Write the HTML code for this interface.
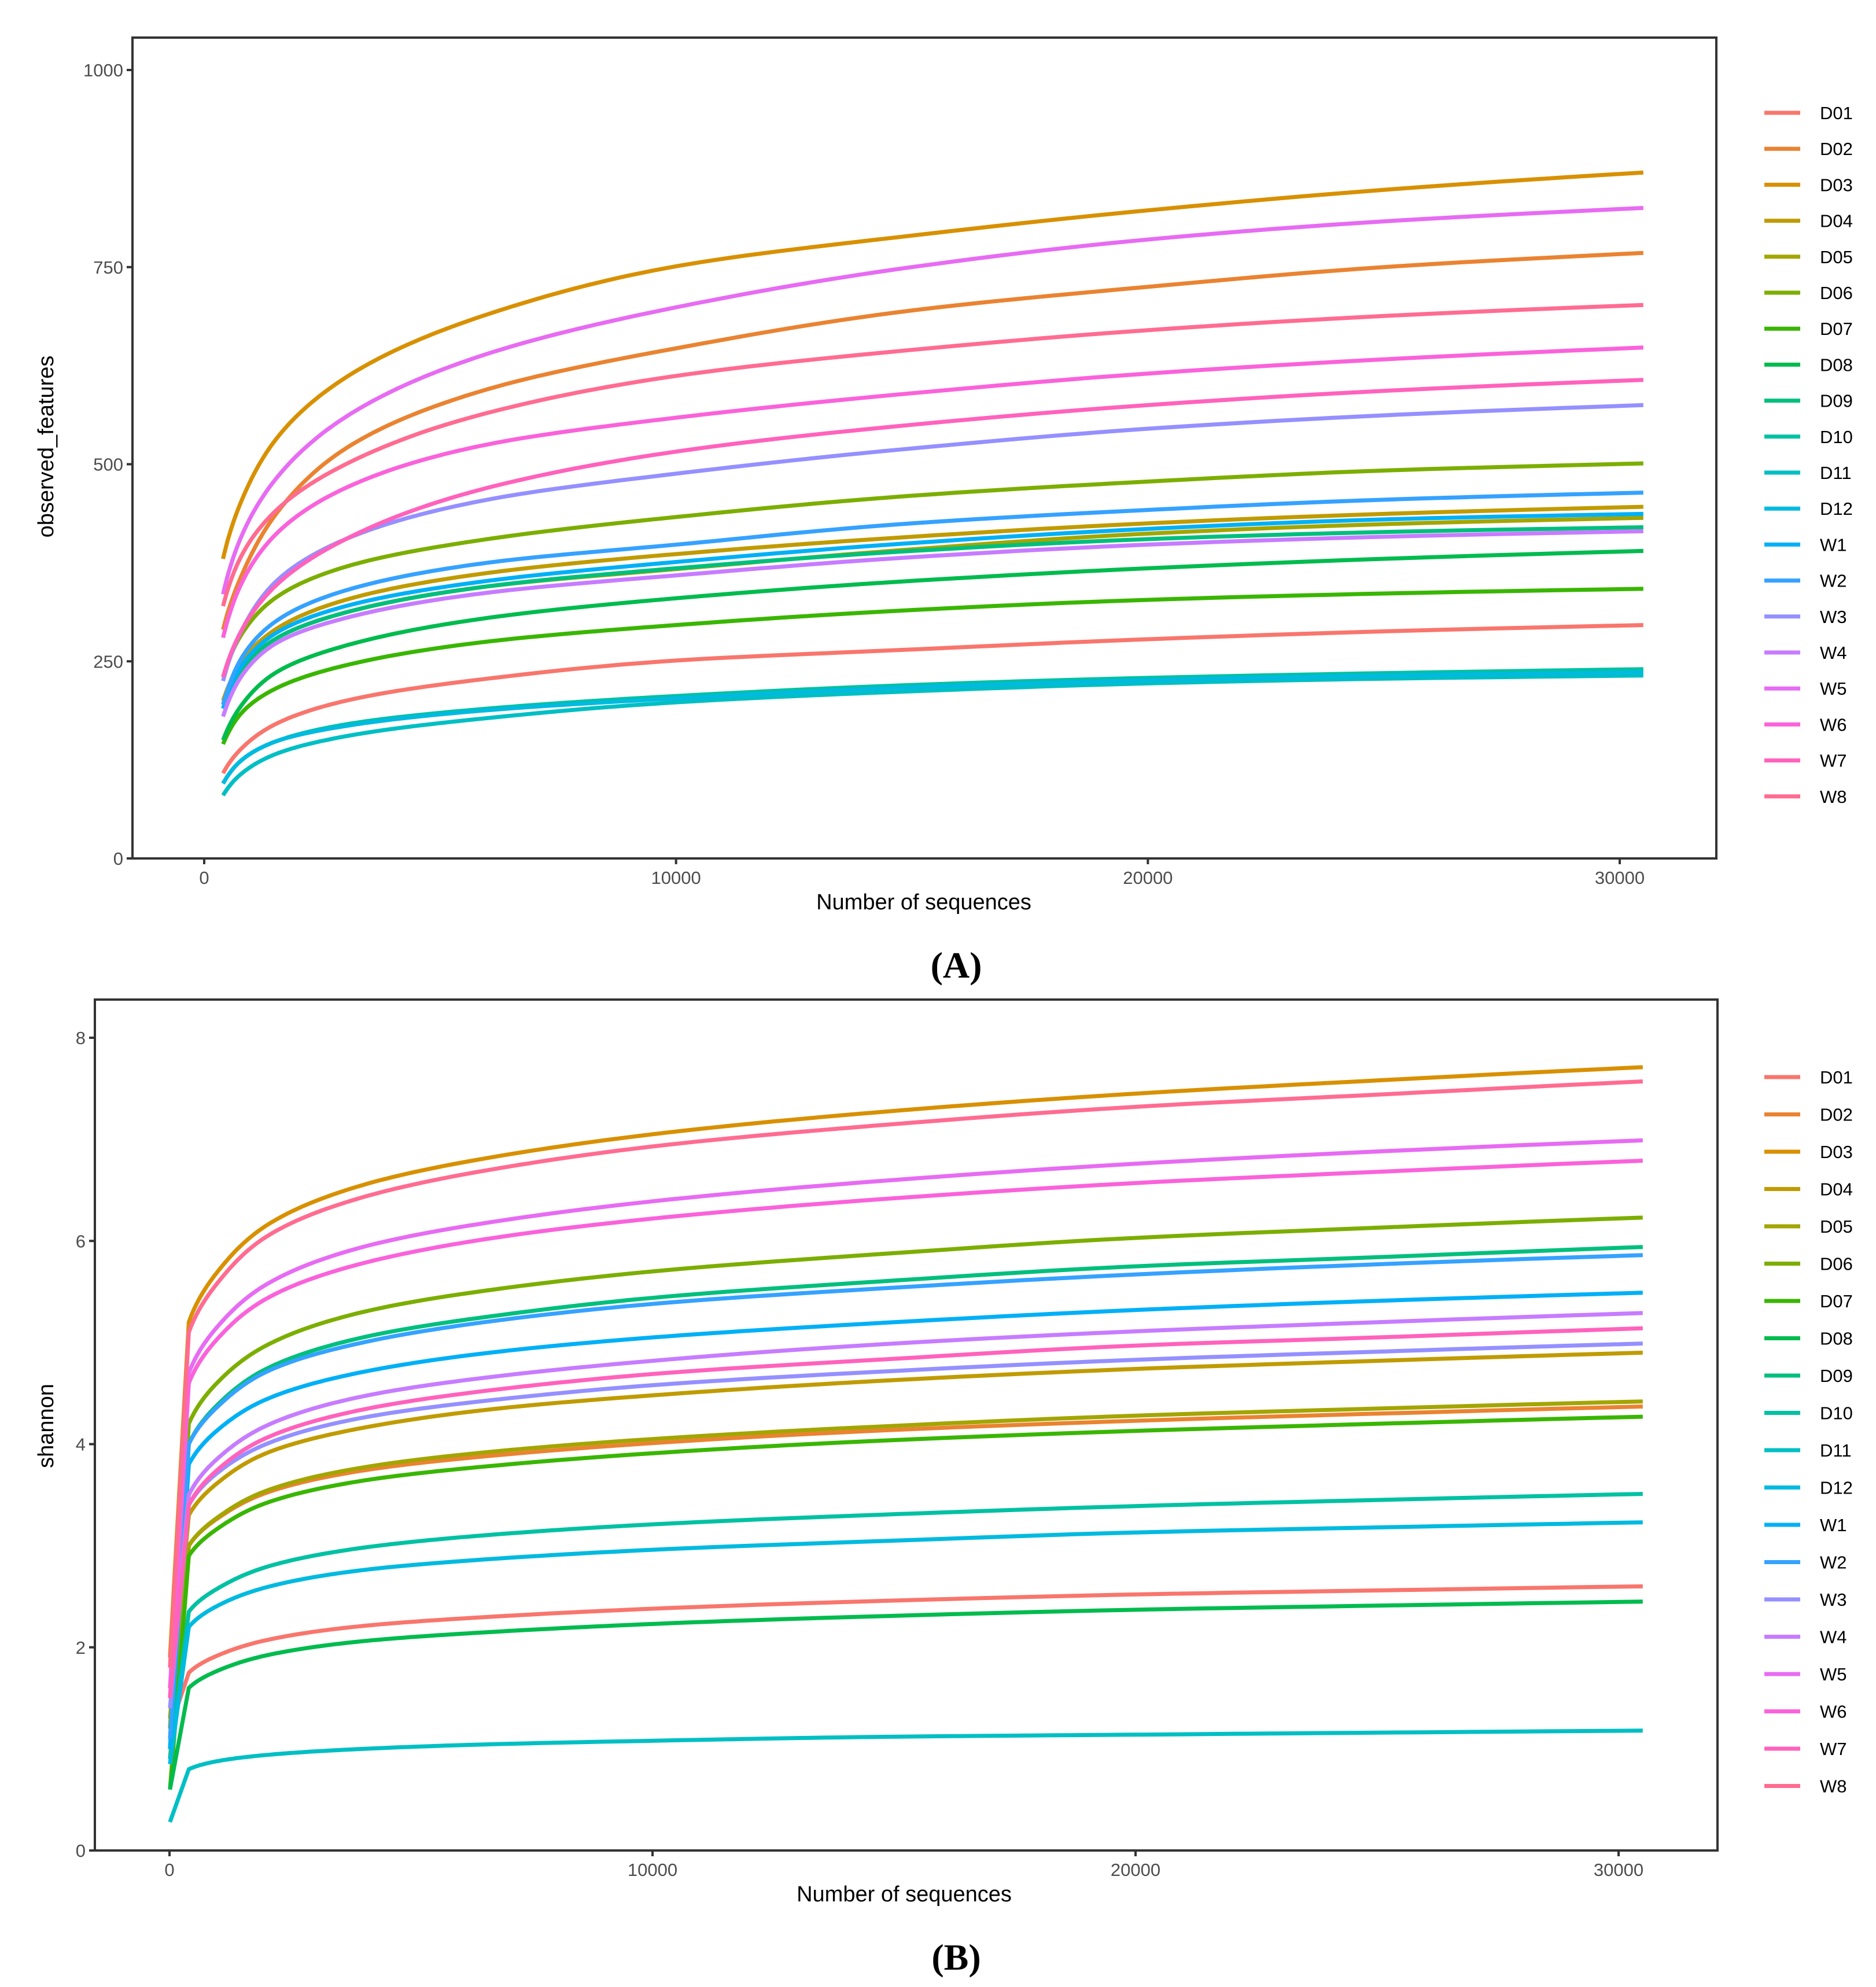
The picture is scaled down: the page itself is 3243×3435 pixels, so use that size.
<!DOCTYPE html>
<html><head><meta charset="utf-8">
<style>
html,body{margin:0;padding:0;background:#fff;}
svg{display:block;font-family:"Liberation Sans",Arial,sans-serif;}
</style></head>
<body>
<svg id="chart" width="3243" height="3435" viewBox="0 0 3243 3435" xmlns="http://www.w3.org/2000/svg">
<rect width="3243" height="3435" fill="#fff"/>
<g id="panelA"></g>
<g id="panelB"></g>
<text x="1653" y="1690" text-anchor="middle" font-family="Liberation Serif,serif" font-weight="bold" font-size="64" fill="#000">(A)</text>
<text x="1653" y="3405" text-anchor="middle" font-family="Liberation Serif,serif" font-weight="bold" font-size="64" fill="#000">(B)</text>
</svg>
<script>
const seriesNames = ["D01","D02","D03","D04","D05","D06","D07","D08","D09","D10","D11","D12","W1","W2","W3","W4","W5","W6","W7","W8"];
const seriesColors = ["#F8766D","#EA8331","#D89000","#C09B00","#A3A500","#7CAE00","#39B600","#00BB4E","#00BF7D","#00C1A3","#00BFC4","#00BAE0","#00B0F6","#35A2FF","#9590FF","#C77CFF","#E76BF3","#FA62DB","#FF62BC","#FF6C91"];

const depthsA = [400,800,1500,3000,6000,10000,15000,20000,25000,30500];
const observedD01 = [108,140,170,200,228,251,265,278,288,296];
const observedD02 = [290,360,435,520,595,647,695,725,750,768];
const observedD03 = [380,455,530,610,690,751,790,822,848,870];
const observedD04 = [200,250,290,328,362,386,408,425,437,446];
const observedD05 = [195,240,278,312,345,367,392,412,424,432];
const observedD06 = [230,285,330,370,405,433,460,478,492,501];
const observedD07 = [145,185,215,245,275,296,315,328,336,342];
const observedD08 = [150,195,235,270,305,330,352,368,380,390];
const observedD09 = [190,240,278,312,345,368,390,405,414,420];
const observedD10 = [95,125,148,170,190,206,220,229,235,240];
const observedD11 = [80,108,132,155,178,198,212,222,228,232];
const observedD12 = [95,125,148,168,188,203,217,226,232,236];
const observedW1 = [190,245,285,320,352,376,400,418,430,437];
const observedW2 = [195,255,300,340,375,398,425,442,455,464];
const observedW3 = [225,290,350,405,455,488,520,545,562,575];
const observedW4 = [180,232,272,305,337,359,382,398,408,415];
const observedW5 = [335,410,480,560,640,699,750,785,808,825];
const observedW6 = [280,350,410,470,525,559,590,615,633,648];
const observedW7 = [230,290,345,405,470,516,550,575,593,607];
const observedW8 = [320,385,440,500,565,612,645,670,688,702];
const observedSeries = [observedD01,observedD02,observedD03,observedD04,observedD05,observedD06,observedD07,observedD08,observedD09,observedD10,observedD11,observedD12,observedW1,observedW2,observedW3,observedW4,observedW5,observedW6,observedW7,observedW8];
const ticksA_y = [0,250,500,750,1000];
const ticksX = [0,10000,20000,30000];

const depthsB = [10,400,1000,2000,4000,7000,10000,15000,20000,25000,30500];
const shannonD01 = [1.2,1.75,1.92,2.07,2.21,2.31,2.38,2.46,2.52,2.56,2.60];
const shannonD02 = [0.9,3.0,3.27,3.52,3.74,3.90,4.01,4.14,4.23,4.30,4.37];
const shannonD03 = [1.9,5.2,5.7,6.15,6.55,6.85,7.05,7.28,7.45,7.58,7.71];
const shannonD04 = [1.3,3.3,3.62,3.91,4.16,4.36,4.48,4.63,4.74,4.82,4.90];
const shannonD05 = [0.9,3.0,3.28,3.54,3.77,3.94,4.05,4.18,4.28,4.35,4.42];
const shannonD06 = [1.2,4.2,4.61,4.97,5.30,5.54,5.70,5.88,6.03,6.13,6.23];
const shannonD07 = [0.6,2.9,3.17,3.42,3.64,3.80,3.91,4.04,4.13,4.20,4.27];
const shannonD08 = [0.6,1.6,1.77,1.92,2.06,2.16,2.23,2.31,2.37,2.41,2.45];
const shannonD09 = [1.0,4.0,4.39,4.74,5.05,5.28,5.44,5.61,5.75,5.84,5.94];
const shannonD10 = [0.9,2.35,2.58,2.79,2.98,3.12,3.21,3.31,3.39,3.45,3.51];
const shannonD11 = [0.28,0.8,0.88,0.94,1.0,1.05,1.08,1.12,1.14,1.16,1.18];
const shannonD12 = [0.85,2.2,2.41,2.59,2.76,2.88,2.96,3.05,3.13,3.18,3.23];
const shannonW1 = [1.0,3.8,4.14,4.44,4.71,4.92,5.05,5.20,5.32,5.41,5.49];
const shannonW2 = [1.1,4.0,4.37,4.71,5.0,5.23,5.38,5.54,5.67,5.77,5.86];
const shannonW3 = [1.4,3.4,3.72,4.0,4.26,4.45,4.58,4.72,4.83,4.91,4.99];
const shannonW4 = [1.6,3.5,3.86,4.18,4.47,4.68,4.82,4.99,5.11,5.20,5.29];
const shannonW5 = [1.6,4.7,5.16,5.57,5.94,6.21,6.39,6.60,6.76,6.88,6.99];
const shannonW6 = [1.5,4.6,5.04,5.43,5.78,6.05,6.22,6.42,6.57,6.68,6.79];
const shannonW7 = [1.5,3.4,3.75,4.06,4.34,4.55,4.69,4.84,4.97,5.05,5.14];
const shannonW8 = [1.8,5.1,5.59,6.04,6.43,6.73,6.93,7.15,7.32,7.44,7.57];
const shannonSeries = [shannonD01,shannonD02,shannonD03,shannonD04,shannonD05,shannonD06,shannonD07,shannonD08,shannonD09,shannonD10,shannonD11,shannonD12,shannonW1,shannonW2,shannonW3,shannonW4,shannonW5,shannonW6,shannonW7,shannonW8];
const ticksB_y = [0,2,4,6,8];

const NS = "http://www.w3.org/2000/svg";
function mk(tag, attrs, parent){
  const e = document.createElementNS(NS, tag);
  for (const k in attrs) e.setAttribute(k, attrs[k]);
  parent.appendChild(e);
  return e;
}

function monotone(xs, ys){
  const n = xs.length, d = [], m = new Array(n);
  for (let i=0;i<n-1;i++) d.push((ys[i+1]-ys[i])/(xs[i+1]-xs[i]));
  m[0]=d[0]; m[n-1]=d[n-2];
  for (let i=1;i<n-1;i++){
    if (d[i-1]*d[i]<=0) m[i]=0;
    else { const w1=2*(xs[i+1]-xs[i])+(xs[i]-xs[i-1]), w2=(xs[i+1]-xs[i])+2*(xs[i]-xs[i-1]);
      m[i]=(w1+w2)/(w1/d[i-1]+w2/d[i]); }
  }
  return function(x){
    let i=0; while(i<n-2 && x>xs[i+1]) i++;
    const h=xs[i+1]-xs[i], t=(x-xs[i])/h, t2=t*t, t3=t2*t;
    return (2*t3-3*t2+1)*ys[i]+(t3-2*t2+t)*h*m[i]+(-2*t3+3*t2)*ys[i+1]+(t3-t2)*h*m[i+1];
  };
}

function drawPanel(g, cfg){
  const {L,R,T,B,x0px,x30px,yMax,yTopPx,yBotPx,depths,series,yticks,ytitle,legendY0,legendStep,linearFirst} = cfg;
  const sx = v => x0px + (x30px-x0px)*v/30000;
  const sy = v => yBotPx - (yBotPx-yTopPx)*v/yMax;
  const plot = mk('g',{},g);
  
  
  series.forEach((vals, si) => {
    const pts = [];
    let ds = depths, vs = vals;
    if (linearFirst){
      pts.push(sx(depths[0]).toFixed(1)+','+sy(vals[0]).toFixed(1));
      ds = depths.slice(1); vs = vals.slice(1);
    }
    const f = monotone(ds.map(d=>Math.log(d)), vs);
    const a = Math.log(ds[0]), b = Math.log(ds[ds.length-1]);
    for (let k=0;k<=160;k++){
      const lx = a + (b-a)*k/160;
      pts.push(sx(Math.exp(lx)).toFixed(1)+','+sy(f(lx)).toFixed(1));
    }
    const p = mk('polyline',{points:pts.join(' '),fill:'none',stroke:seriesColors[si],'stroke-width':7,'stroke-linejoin':'round','stroke-linecap':'butt'},plot);
    
    
  });
  const frame = mk('rect',{x:L,y:T,width:R-L,height:B-T,fill:'none',stroke:'#333','stroke-width':4},g);
  
  
  yticks.forEach(v => {
    const y = sy(v);
    mk('line',{x1:L-10,x2:L,y1:y,y2:y,stroke:'#333','stroke-width':4},g);
    const t = mk('text',{x:L-16,y:y+11,'text-anchor':'end','font-size':31,fill:'#4d4d4d'},g);
    t.textContent = v;
    
    
  });
  ticksX.forEach(v => {
    const x = sx(v);
    mk('line',{x1:x,x2:x,y1:B,y2:B+10,stroke:'#333','stroke-width':4},g);
    const t = mk('text',{x:x,y:B+44,'text-anchor':'middle','font-size':31,fill:'#4d4d4d'},g);
    t.textContent = v;
    
    
  });
  const xt = mk('text',{x:cfg.xtitleX,y:B+88,'text-anchor':'middle','font-size':38,fill:'#000'},g);
  xt.textContent = 'Number of sequences';
  
  
  const yt = mk('text',{x:0,y:0,'text-anchor':'middle','font-size':38,fill:'#000',transform:'translate(92,'+cfg.ytitleY+') rotate(-90)'},g);
  yt.textContent = ytitle;
  
  
  seriesNames.forEach((n, i) => {
    const y = legendY0 + legendStep*i;
    const lg = mk('g',{},g);
    
    
    mk('line',{x1:3050,x2:3112,y1:y,y2:y,stroke:seriesColors[i],'stroke-width':7},lg);
    const t = mk('text',{x:3146,y:y+11,'font-size':31,fill:'#000'},lg);
    t.textContent = n;
  });
}

drawPanel(document.getElementById('panelA'),{
  L:229,R:2967,T:65,B:1484,x0px:353,x30px:2800,yMax:1000,yTopPx:121,yBotPx:1484,
  depths:depthsA,series:observedSeries,yticks:ticksA_y,ytitle:'observed_features',
  legendY0:195,legendStep:62.2,xtitleX:1597,ytitleY:772,linearFirst:false
});
drawPanel(document.getElementById('panelB'),{
  L:164,R:2969,T:1728,B:3199,x0px:293,x30px:2798,yMax:8,yTopPx:1794,yBotPx:3199,
  depths:depthsB,series:shannonSeries,yticks:ticksB_y,ytitle:'shannon',
  legendY0:1862,legendStep:64.5,xtitleX:1563,ytitleY:2465,linearFirst:true
});
</script>
</body></html>
